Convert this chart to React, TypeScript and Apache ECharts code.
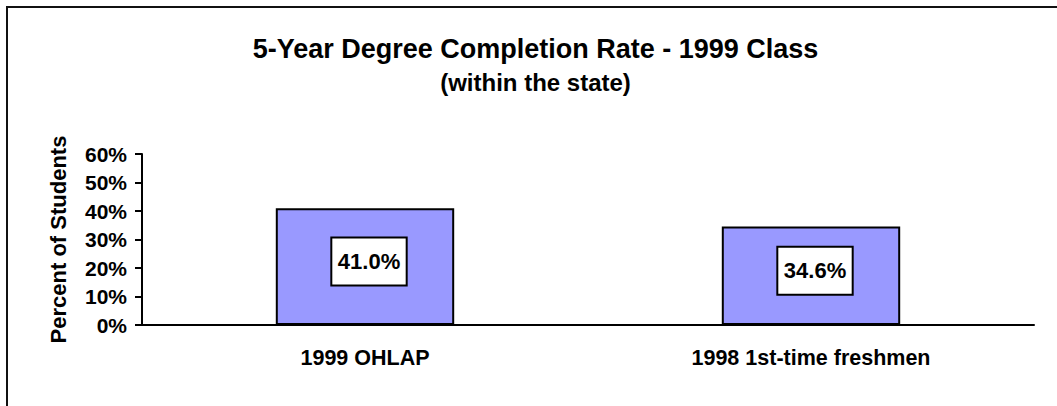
import React, { useEffect, useRef } from "react";
import * as echarts from "echarts";

const categories = ["1999 OHLAP", "1998 1st-time freshmen"];
const completionRates = [0.41, 0.346];
const titleText = "5-Year Degree Completion Rate - 1999 Class";
const subtitleText = "(within the state)";
const yAxisName = "Percent of Students";

const FONT = '"Liberation Sans", Arial, sans-serif';

export default function App() {
  const ref = useRef<HTMLDivElement>(null);
  useEffect(() => {
    if (!ref.current) return;
    const chart = echarts.init(ref.current, null, { renderer: "svg" });
    chart.setOption({
      animation: false,
      backgroundColor: "#fff",
      textStyle: { fontFamily: FONT },
      graphic: [
        {
          type: "rect",
          shape: { x: 7, y: 7, width: 1200, height: 600 },
          style: { fill: "none", stroke: "#111", lineWidth: 2 },
          silent: true,
        },
        {
          type: "text",
          x: 535.5,
          y: 49.3,
          style: {
            text: titleText,
            fontFamily: FONT,
            fontSize: 27,
            fontWeight: "bold",
            fill: "#000",
            textAlign: "center",
            textVerticalAlign: "middle",
          },
        },
        {
          type: "text",
          x: 535.5,
          y: 82,
          style: {
            text: subtitleText,
            fontFamily: FONT,
            fontSize: 24,
            fontWeight: "bold",
            fill: "#000",
            textAlign: "center",
            textVerticalAlign: "middle",
          },
        },
      ],
      grid: { left: 142, right: 23, top: 154, bottom: 81 },
      xAxis: {
        type: "category",
        data: categories,
        axisLine: { lineStyle: { color: "#000", width: 2 } },
        axisTick: { length: 7, lineStyle: { color: "#000", width: 2 } },
        axisLabel: {
          color: "#000",
          fontSize: 21.5,
          fontWeight: "bold",
          fontFamily: FONT,
          margin: 22,
        },
      },
      yAxis: {
        type: "value",
        min: 0,
        max: 0.6,
        interval: 0.1,
        name: yAxisName,
        nameLocation: "middle",
        nameGap: 73,
        nameTextStyle: {
          color: "#000",
          fontSize: 22,
          fontWeight: "bold",
          fontFamily: FONT,
        },
        axisLine: { show: true, lineStyle: { color: "#000", width: 2 } },
        axisTick: { show: true, length: 7, lineStyle: { color: "#000", width: 2 } },
        splitLine: { show: false },
        axisLabel: {
          color: "#000",
          fontSize: 21,
          fontWeight: "bold",
          fontFamily: FONT,
          margin: 15,
          formatter: (v: number) => Math.round(v * 100) + "%",
        },
      },
      series: [
        {
          type: "bar",
          data: completionRates,
          barWidth: "40%",
          itemStyle: { color: "#9999FF", borderColor: "#000", borderWidth: 2 },
          label: {
            show: true,
            position: "inside",
            offset: [4, -5],
            formatter: (p: any) => (p.value * 100).toFixed(1) + "%",
            color: "#000",
            fontSize: 22,
            fontWeight: "bold",
            fontFamily: FONT,
            backgroundColor: "#fff",
            borderColor: "#000",
            borderWidth: 2,
            padding: [12, 5.5],
          },
        },
      ],
    });
    return () => chart.dispose();
  }, []);
  return (
    <div
      ref={ref}
      style={{ position: "absolute", left: 0, top: 0, width: 1057, height: 406 }}
    />
  );
}
